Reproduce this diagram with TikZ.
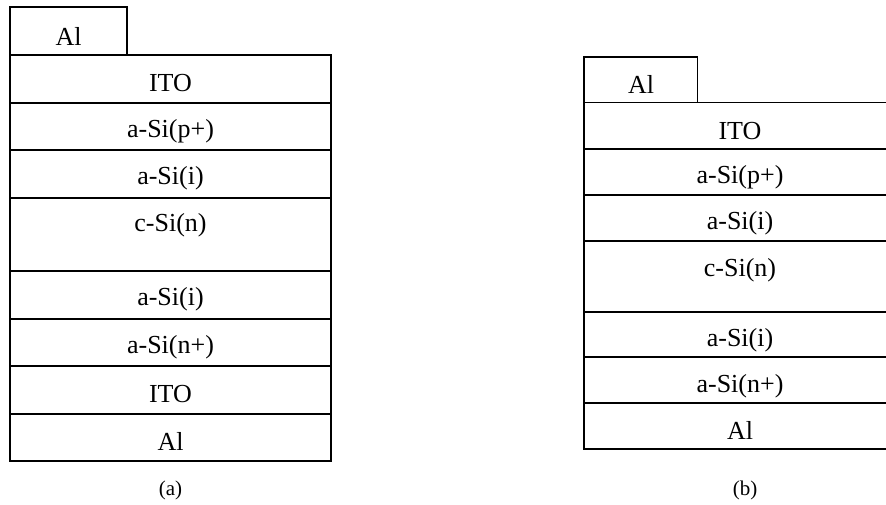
\documentclass[tikz,border=0pt]{standalone}
\usepackage{fontspec}
\setmainfont{Liberation Serif}
\begin{document}
\begin{tikzpicture}[x=1pt,y=-1pt,
  layer/.style={draw=black,line width=1.8pt},
  lab/.style={inner sep=0pt,font=\fontsize{26}{30}\selectfont},
  captext/.style={inner sep=0pt,font=\fontsize{21}{25}\selectfont}]
\useasboundingbox (0,0) rectangle (886,504);
\begin{scope}
\clip (0,0) rectangle (886,504);
% ---------- (a) ----------
\draw[layer] (10,7) rectangle (127,55);
\draw[layer] (10,55) rectangle (331,461);
\foreach \yy in {103,150,198,271,319,366,414}
  \draw[layer] (10,\yy) -- (331,\yy);
\node[lab] (aAl1) at (68.5,36) {Al};
\node[lab] (aITO1) at (170.5,83) {ITO};
\node[lab] (aP) at (170.5,131) {a-Si(p+)};
\node[lab] (aI1) at (170.5,178) {a-Si(i)};
\node[lab] (aC) at (170.5,225) {c-Si(n)};
\node[lab] (aI2) at (170.5,299) {a-Si(i)};
\node[lab] (aN) at (170.5,347) {a-Si(n+)};
\node[lab] (aITO2) at (170.5,394) {ITO};
\node[lab] (aAl2) at (170.5,441) {Al};
\node[captext] (capA) at (170.5,490) {(a)};
% ---------- (b) ----------
\draw[layer] (584,57) rectangle (697.5,102.5);
\draw[layer] (584,102.5) rectangle (896,449);
\foreach \yy in {149,195,240.7,311.7,357,403}
  \draw[layer] (584,\yy) -- (896,\yy);
\node[lab] (bAl1) at (641,84) {Al};
\node[lab] (bITO) at (740,131) {ITO};
\node[lab] (bP) at (740,177) {a-Si(p+)};
\node[lab] (bI1) at (740,223) {a-Si(i)};
\node[lab] (bC) at (740,270) {c-Si(n)};
\node[lab] (bI2) at (740,340) {a-Si(i)};
\node[lab] (bN) at (740,386) {a-Si(n+)};
\node[lab] (bAl2) at (740,430) {Al};
\node[captext] (capB) at (745,490) {(b)};
\end{scope}
\end{tikzpicture}
\end{document}
